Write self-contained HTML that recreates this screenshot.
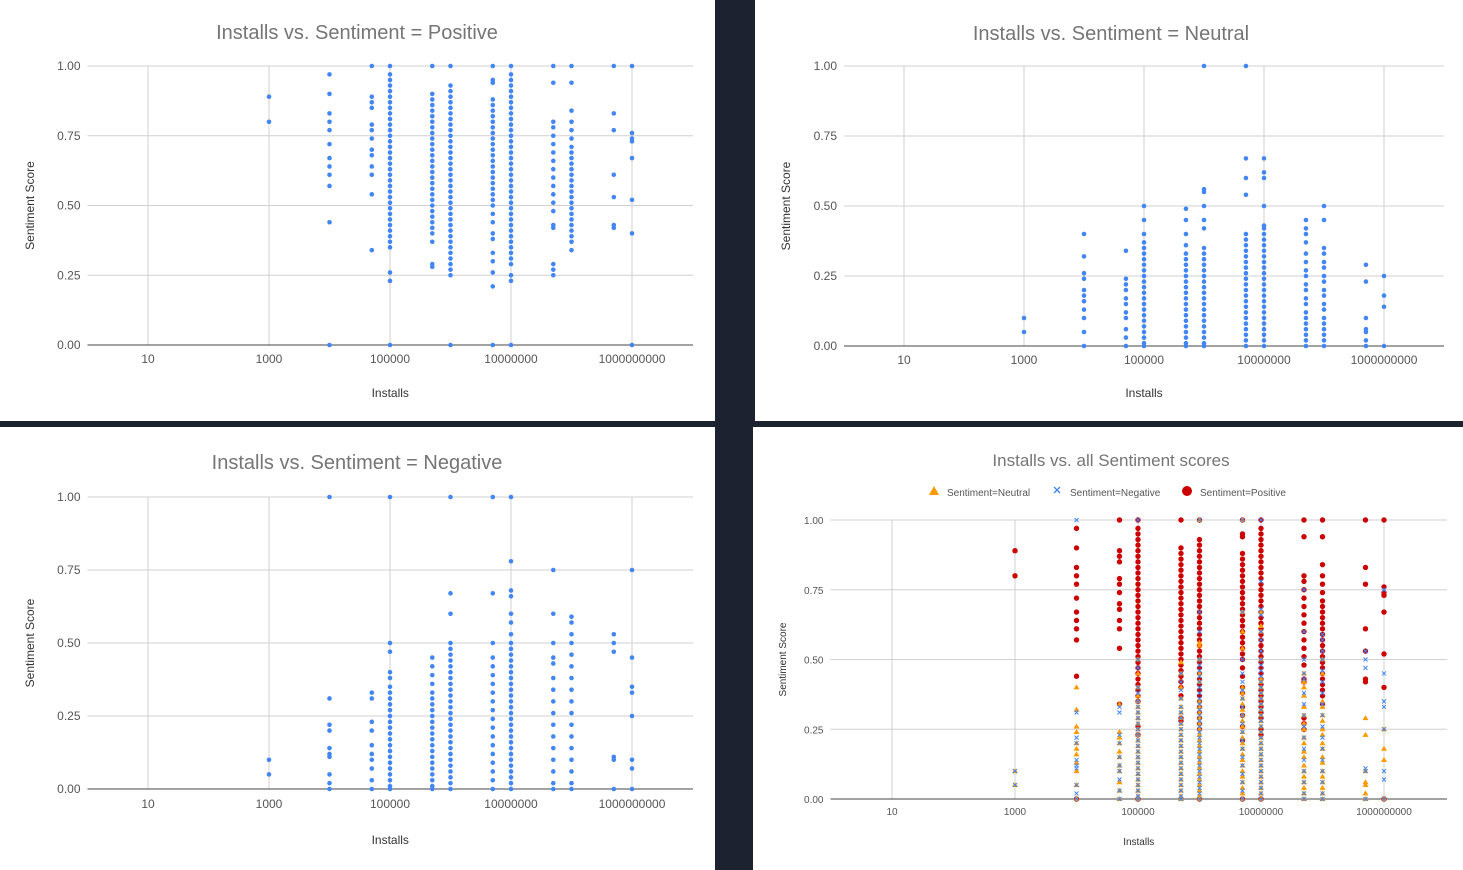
<!DOCTYPE html>
<html><head><meta charset="utf-8">
<style>
html,body{margin:0;padding:0;background:#1c2230;}
body{width:1463px;height:870px;position:relative;overflow:hidden;font-family:"Liberation Sans",Arial,sans-serif;}
.panel{position:absolute;background:#fff;}
svg{display:block}
</style></head>
<body>
<div class="panel" style="left:0;top:0;width:715px;height:421px"><svg id="c1" width="715" height="421"></svg></div>
<div class="panel" style="left:755px;top:0;width:708px;height:421px"><svg id="c2" width="708" height="421" viewBox="755 0 708 421"></svg></div>
<div class="panel" style="left:0;top:427px;width:715px;height:443px"><svg id="c3" width="715" height="443"></svg></div>
<div class="panel" style="left:753px;top:427px;width:710px;height:443px"><svg id="c4" width="710" height="443"></svg></div>
<script>
const installCats = [1000,10000,50000,100000,500000,1000000,5000000,10000000,50000000,100000000,500000000,1000000000];
const tickLabels = ["10","1000","100000","10000000","1000000000"];
const tickValues = [10,1000,100000,10000000,1000000000];
const yTicks = [0,0.25,0.5,0.75,1.0];
const positiveScores = [
[0.89,0.80],
[0.97,0.90,0.83,0.80,0.77,0.72,0.67,0.64,0.61,0.57,0.44,0.0],
[1.0,0.89,0.87,0.85,0.79,0.77,0.74,0.70,0.68,0.64,0.61,0.54,0.34],
[1.0,0.97,0.95,0.93,0.91,0.89,0.87,0.85,0.83,0.81,0.79,0.77,0.75,0.73,0.71,0.69,0.67,0.65,0.63,0.61,0.59,0.57,0.55,0.53,0.51,0.49,0.47,0.45,0.43,0.41,0.39,0.37,0.35,0.26,0.23,0.0],
[1.0,0.90,0.88,0.86,0.84,0.82,0.80,0.78,0.76,0.74,0.72,0.70,0.68,0.66,0.64,0.62,0.60,0.58,0.56,0.54,0.52,0.50,0.48,0.46,0.44,0.42,0.40,0.37,0.29,0.28],
[1.0,0.93,0.91,0.89,0.87,0.85,0.83,0.81,0.79,0.77,0.75,0.73,0.71,0.69,0.67,0.65,0.63,0.61,0.59,0.57,0.55,0.53,0.51,0.49,0.47,0.45,0.43,0.41,0.39,0.37,0.35,0.33,0.31,0.29,0.27,0.25,0.0],
[1.0,0.95,0.94,0.88,0.86,0.84,0.82,0.80,0.78,0.76,0.74,0.72,0.70,0.68,0.66,0.64,0.62,0.60,0.58,0.56,0.54,0.52,0.50,0.47,0.44,0.40,0.38,0.33,0.30,0.26,0.21,0.0],
[1.0,0.97,0.95,0.93,0.91,0.89,0.87,0.85,0.83,0.81,0.79,0.77,0.75,0.73,0.71,0.69,0.67,0.65,0.63,0.61,0.59,0.57,0.55,0.53,0.51,0.49,0.47,0.45,0.43,0.41,0.39,0.37,0.35,0.33,0.31,0.29,0.25,0.23,0.0],
[1.0,0.94,0.80,0.78,0.75,0.72,0.69,0.66,0.63,0.60,0.57,0.54,0.51,0.48,0.43,0.42,0.29,0.27,0.25],
[1.0,0.94,0.84,0.80,0.77,0.74,0.71,0.69,0.67,0.65,0.63,0.61,0.59,0.57,0.55,0.53,0.51,0.49,0.47,0.45,0.43,0.41,0.39,0.37,0.34],
[1.0,0.83,0.77,0.61,0.53,0.43,0.42],
[1.0,0.76,0.74,0.73,0.67,0.52,0.40,0.0]
];
const neutralScores = [
[0.10,0.05],
[0.40,0.32,0.26,0.24,0.20,0.18,0.16,0.13,0.10,0.05,0.0],
[0.34,0.24,0.22,0.20,0.17,0.15,0.12,0.10,0.06,0.03,0.0],
[0.50,0.45,0.40,0.37,0.35,0.33,0.31,0.29,0.27,0.25,0.23,0.21,0.19,0.17,0.15,0.13,0.11,0.09,0.07,0.05,0.03,0.01,0.0],
[0.49,0.45,0.40,0.36,0.33,0.31,0.29,0.27,0.25,0.23,0.21,0.19,0.17,0.15,0.13,0.11,0.09,0.07,0.05,0.03,0.01,0.0],
[1.0,0.56,0.55,0.50,0.45,0.42,0.35,0.33,0.31,0.29,0.27,0.25,0.23,0.21,0.19,0.17,0.15,0.13,0.11,0.09,0.07,0.05,0.03,0.01,0.0],
[1.0,0.67,0.60,0.54,0.40,0.38,0.36,0.34,0.32,0.30,0.28,0.26,0.24,0.22,0.20,0.18,0.16,0.14,0.12,0.10,0.08,0.06,0.04,0.02,0.0],
[0.67,0.62,0.60,0.50,0.43,0.42,0.40,0.38,0.36,0.34,0.32,0.30,0.28,0.26,0.24,0.22,0.20,0.18,0.16,0.14,0.12,0.10,0.08,0.06,0.04,0.02,0.0],
[0.45,0.42,0.40,0.37,0.33,0.30,0.27,0.25,0.22,0.20,0.17,0.15,0.12,0.10,0.08,0.06,0.04,0.02,0.0],
[0.50,0.45,0.35,0.33,0.30,0.28,0.25,0.23,0.20,0.18,0.15,0.13,0.10,0.08,0.06,0.04,0.02,0.0],
[0.29,0.23,0.10,0.06,0.05,0.02,0.0],
[0.25,0.18,0.14,0.0]
];
const negativeScores = [
[0.10,0.05],
[1.0,0.31,0.22,0.20,0.14,0.12,0.11,0.05,0.02,0.0],
[0.33,0.31,0.23,0.20,0.15,0.12,0.10,0.07,0.03,0.0],
[1.0,0.50,0.47,0.40,0.38,0.35,0.33,0.31,0.29,0.27,0.25,0.23,0.21,0.19,0.17,0.15,0.13,0.11,0.09,0.07,0.05,0.03,0.01,0.0],
[0.45,0.42,0.39,0.36,0.33,0.31,0.29,0.27,0.25,0.23,0.21,0.19,0.17,0.15,0.13,0.11,0.09,0.07,0.05,0.03,0.01,0.0],
[1.0,0.67,0.60,0.50,0.48,0.46,0.44,0.42,0.40,0.38,0.36,0.34,0.32,0.30,0.28,0.26,0.24,0.22,0.20,0.18,0.16,0.14,0.12,0.10,0.08,0.06,0.04,0.02,0.0],
[1.0,0.67,0.50,0.45,0.42,0.39,0.36,0.33,0.30,0.27,0.24,0.21,0.18,0.15,0.12,0.09,0.06,0.03,0.0],
[1.0,0.78,0.68,0.66,0.60,0.57,0.53,0.50,0.48,0.46,0.44,0.42,0.40,0.38,0.36,0.34,0.32,0.30,0.28,0.26,0.24,0.22,0.20,0.18,0.16,0.14,0.12,0.10,0.08,0.06,0.04,0.02,0.0],
[0.75,0.60,0.50,0.45,0.43,0.38,0.34,0.30,0.26,0.22,0.18,0.14,0.10,0.06,0.02,0.0],
[0.59,0.57,0.53,0.50,0.46,0.42,0.38,0.34,0.30,0.26,0.22,0.18,0.14,0.10,0.06,0.02,0.0],
[0.53,0.50,0.47,0.11,0.10,0.0],
[0.75,0.45,0.35,0.33,0.25,0.10,0.07,0.0]
];

const NS="http://www.w3.org/2000/svg";
function mk(parent,tag,attrs,name){const e=document.createElementNS(NS,tag);for(const k in attrs)e.setAttribute(k,attrs[k]);


parent.appendChild(e);return e;}
function txt(parent,x,y,s,size,fill,anchor,name,rot){const t=mk(parent,'text',{x:x,y:y,'font-size':size,fill:fill,'text-anchor':anchor||'middle','font-family':'Liberation Sans, Arial, sans-serif'},name);if(rot)t.setAttribute('transform','rotate(-90 '+x+' '+y+')');t.textContent=s;return t;}

function chart(svg,cfg){
  const xs=v=>cfg.x0+Math.log10(v)*cfg.dec;
  const ys=v=>cfg.yb-(cfg.yb-cfg.yt)*v;
  txt(svg,cfg.titleX,cfg.titleY,cfg.title,cfg.titleSize,'#757575','middle','chart-title');
  yTicks.forEach(t=>{
    if(t>0) mk(svg,'line',{x1:cfg.x0,x2:cfg.x1,y1:ys(t),y2:ys(t),stroke:'#d0d0d0','stroke-width':1},'y-gridline');
    txt(svg,cfg.x0-7,ys(t)+4,t.toFixed(2),cfg.tick,'#555','end','y-tick-label');
  });
  tickValues.forEach((v,i)=>{
    mk(svg,'line',{x1:xs(v),x2:xs(v),y1:cfg.yt,y2:cfg.yb,stroke:'#d0d0d0','stroke-width':1},'x-gridline');
    txt(svg,xs(v),cfg.yb+cfg.tickDy,tickLabels[i],cfg.tick,'#555','middle','x-tick-label');
  });
  mk(svg,'line',{x1:cfg.x0,x2:cfg.x1,y1:cfg.yb,y2:cfg.yb,stroke:'#444','stroke-width':1},'x-axis-line');
  txt(svg,(cfg.x0+cfg.x1)/2,cfg.yb+cfg.xlDy,'Installs',cfg.tick,'#333','middle','x-axis-title');
  txt(svg,cfg.ylx,(cfg.yt+cfg.yb)/2,'Sentiment Score',cfg.tick,'#333','middle','y-axis-title',true);
  cfg.series.forEach(s=>{
    const g=mk(svg,'g',{},s.name);
    s.data.forEach((col,i)=>{const x=xs(installCats[i]);col.forEach(v=>{
      const y=ys(v);
      if(s.shape==='tri') mk(g,'polygon',{points:(x)+','+(y-3)+' '+(x-3)+','+(y+2)+' '+(x+3)+','+(y+2),fill:s.color},'point-neutral');
      else if(s.shape==='x') mk(g,'path',{d:'M'+(x-2)+' '+(y-2)+'L'+(x+2)+' '+(y+2)+'M'+(x+2)+' '+(y-2)+'L'+(x-2)+' '+(y+2),stroke:s.color,'stroke-width':1},'point-negative');
      else mk(g,'circle',{cx:x,cy:y,r:s.r,fill:s.color},'point');
    });});
  });
}
const blue='#4285f4';
chart(document.getElementById('c1'),{x0:87.5,x1:693,dec:60.5,yt:66,yb:345,title:'Installs vs. Sentiment = Positive',titleX:357,titleY:39,titleSize:20,tick:12,tickDy:18,xlDy:52,ylx:34,series:[{name:'positive-series',data:positiveScores,color:blue,r:2.3}]});
chart(document.getElementById('c2'),{x0:844,x1:1444,dec:60,yt:66,yb:346,title:'Installs vs. Sentiment = Neutral',titleX:1111,titleY:40,titleSize:20,tick:12,tickDy:18,xlDy:51,ylx:790,series:[{name:'neutral-series',data:neutralScores,color:blue,r:2.3}]});
chart(document.getElementById('c3'),{x0:87.5,x1:693,dec:60.5,yt:70,yb:362,title:'Installs vs. Sentiment = Negative',titleX:357,titleY:42,titleSize:20,tick:12,tickDy:19,xlDy:55,ylx:34,series:[{name:'negative-series',data:negativeScores,color:blue,r:2.3}]});
const c4=document.getElementById('c4');
chart(c4,{x0:77.5,x1:694,dec:61.5,yt:93,yb:372,title:'Installs vs. all Sentiment scores',titleX:358,titleY:39,titleSize:17,tick:10,tickDy:16,xlDy:46,ylx:33,series:[
 {name:'positive-series',data:positiveScores,color:'#cc0000',r:2.7},
 {name:'neutral-series',data:neutralScores,color:'#ff9900',shape:'tri'},
 {name:'negative-series',data:negativeScores,color:'#4285f4',shape:'x'}]});
const lg=mk(c4,'g',{},'legend');
mk(lg,'polygon',{points:'181,59 176,68 186,68',fill:'#ff9900'},'legend-neutral-marker');
txt(lg,194,69,'Sentiment=Neutral',10,'#555','start','legend-neutral');
mk(lg,'path',{d:'M301,60L307,66M307,60L301,66',stroke:'#4285f4','stroke-width':1.3},'legend-negative-marker');
txt(lg,317,69,'Sentiment=Negative',10,'#555','start','legend-negative');
mk(lg,'circle',{cx:434,cy:64,r:5,fill:'#cc0000'},'legend-positive-marker');
txt(lg,447,69,'Sentiment=Positive',10,'#555','start','legend-positive');
</script>
</body></html>
